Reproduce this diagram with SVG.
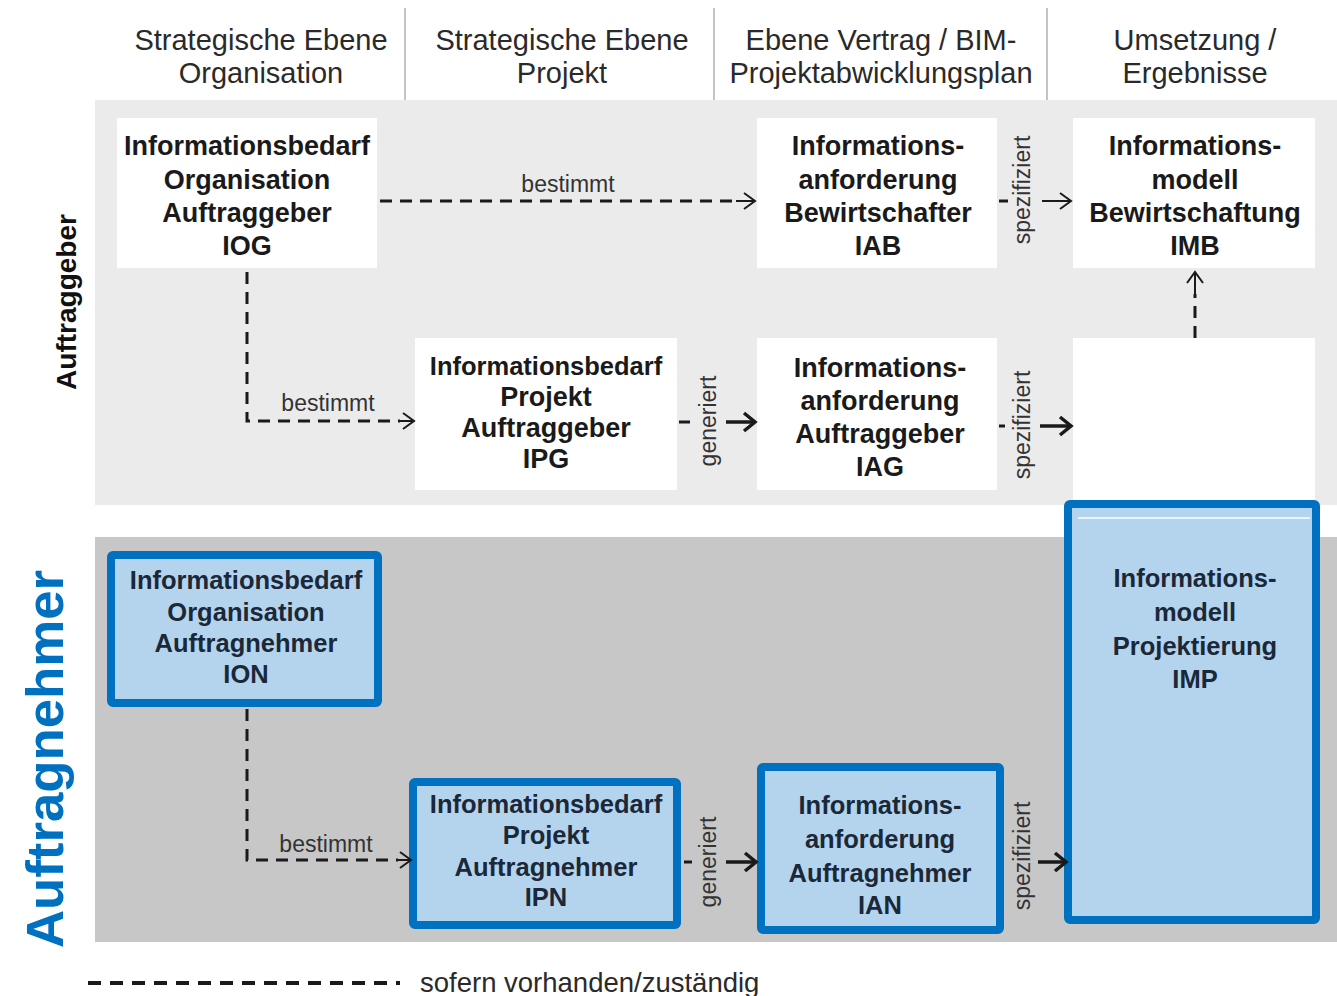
<svg xmlns="http://www.w3.org/2000/svg" width="1337" height="996" viewBox="0 0 1337 996">
<defs>
<style>
.hdr{font-family:"Liberation Sans",Arial,sans-serif;font-size:29px;fill:#2a2a2a;text-anchor:middle}
.nt{font-family:"Liberation Sans",Arial,sans-serif;font-size:27px;font-weight:bold;fill:#1a1a1a;text-anchor:middle}
.bt{font-family:"Liberation Sans",Arial,sans-serif;font-size:25.5px;font-weight:bold;fill:#1b2838;text-anchor:middle}
.lbl{font-family:"Liberation Sans",Arial,sans-serif;font-size:23px;fill:#333;text-anchor:middle}
.wbox{fill:#ffffff}
.bbox{fill:#b4d4ee;stroke:#0070c0;stroke-width:8}
.dash{fill:none;stroke:#1a1a1a;stroke-width:3;stroke-dasharray:12 8}
.arr{fill:none;stroke:#1a1a1a;stroke-width:2;marker-end:url(#ah)}
.arrb{fill:none;stroke:#1a1a1a;stroke-width:3.5;marker-end:url(#ahb)}
.sep{stroke:#c4c4c4;stroke-width:2}
</style>
<marker id="ah" markerUnits="userSpaceOnUse" markerWidth="20" markerHeight="20" refX="14" refY="10" orient="auto">
<path d="M3,2 L14,10 L3,18" fill="none" stroke="#1a1a1a" stroke-width="2"/>
</marker>
<marker id="ahb" markerUnits="userSpaceOnUse" markerWidth="22" markerHeight="22" refX="15" refY="11" orient="auto">
<path d="M4,2 L15,11 L4,20" fill="none" stroke="#1a1a1a" stroke-width="3.5"/>
</marker>
</defs>
<rect x="0" y="0" width="1337" height="996" fill="#ffffff"/>
<g id="bands">
<rect x="95" y="100" width="1242" height="405" fill="#ebebeb"/>
<rect x="95" y="537" width="1242" height="405" fill="#c7c7c7"/>
</g>
<g id="headers">
<line class="sep" x1="405" y1="8" x2="405" y2="100"/>
<line class="sep" x1="714" y1="8" x2="714" y2="100"/>
<line class="sep" x1="1047" y1="8" x2="1047" y2="100"/>
<text class="hdr" x="261" y="50">Strategische Ebene</text>
<text class="hdr" x="261" y="83">Organisation</text>
<text class="hdr" x="562" y="50">Strategische Ebene</text>
<text class="hdr" x="562" y="83">Projekt</text>
<text class="hdr" x="881" y="50">Ebene Vertrag / BIM-</text>
<text class="hdr" x="881" y="83">Projektabwicklungsplan</text>
<text class="hdr" x="1195" y="50">Umsetzung /</text>
<text class="hdr" x="1195" y="83">Ergebnisse</text>
</g>
<g id="side-labels">
<text transform="translate(76,302) rotate(-90)" font-family="Liberation Sans, Arial, sans-serif" font-size="28" font-weight="bold" fill="#111" text-anchor="middle">Auftraggeber</text>
<text transform="translate(63,759) rotate(-90)" font-family="Liberation Sans, Arial, sans-serif" font-size="52" font-weight="bold" fill="#0070c0" text-anchor="middle" textLength="378" lengthAdjust="spacingAndGlyphs">Auftragnehmer</text>
</g>
<g id="node-IOG">
<rect class="wbox" x="117" y="118" width="260" height="150"/>
<text class="nt" x="247" y="155">Informationsbedarf</text>
<text class="nt" x="247" y="189">Organisation</text>
<text class="nt" x="247" y="222">Auftraggeber</text>
<text class="nt" x="247" y="255">IOG</text>
</g>
<g id="node-IAB">
<rect class="wbox" x="757" y="118" width="240" height="150"/>
<text class="nt" x="878" y="155">Informations-</text>
<text class="nt" x="878" y="189">anforderung</text>
<text class="nt" x="878" y="222">Bewirtschafter</text>
<text class="nt" x="878" y="255">IAB</text>
</g>
<g id="node-IMB">
<rect class="wbox" x="1073" y="118" width="242" height="150"/>
<text class="nt" x="1195" y="155">Informations-</text>
<text class="nt" x="1195" y="189">modell</text>
<text class="nt" x="1195" y="222">Bewirtschaftung</text>
<text class="nt" x="1195" y="255">IMB</text>
</g>
<g id="node-IPG">
<rect class="wbox" x="415" y="338" width="262" height="152"/>
<text class="nt" x="546" y="375" style="font-size:25.5px">Informationsbedarf</text>
<text class="nt" x="546" y="406">Projekt</text>
<text class="nt" x="546" y="437">Auftraggeber</text>
<text class="nt" x="546" y="468">IPG</text>
</g>
<g id="node-IAG">
<rect class="wbox" x="757" y="338" width="240" height="152"/>
<text class="nt" x="880" y="377">Informations-</text>
<text class="nt" x="880" y="410">anforderung</text>
<text class="nt" x="880" y="443">Auftraggeber</text>
<text class="nt" x="880" y="476">IAG</text>
</g>
<g id="node-empty">
<rect class="wbox" x="1073" y="338" width="242" height="162"/>
</g>
<g id="node-ION">
<rect class="bbox" x="111" y="555" width="267" height="148" rx="2"/>
<text class="bt" x="246" y="589">Informationsbedarf</text>
<text class="bt" x="246" y="621">Organisation</text>
<text class="bt" x="246" y="652">Auftragnehmer</text>
<text class="bt" x="246" y="683">ION</text>
</g>
<g id="node-IPN">
<rect class="bbox" x="413" y="782" width="264" height="143" rx="2"/>
<text class="bt" x="546" y="813">Informationsbedarf</text>
<text class="bt" x="546" y="844">Projekt</text>
<text class="bt" x="546" y="876">Auftragnehmer</text>
<text class="bt" x="546" y="906">IPN</text>
</g>
<g id="node-IAN">
<rect class="bbox" x="761" y="767" width="239" height="163" rx="2"/>
<text class="bt" x="880" y="814">Informations-</text>
<text class="bt" x="880" y="848">anforderung</text>
<text class="bt" x="880" y="882">Auftragnehmer</text>
<text class="bt" x="880" y="914">IAN</text>
</g>
<g id="node-IMP">
<rect class="bbox" x="1068" y="504" width="248" height="416" rx="2"/>
<line x1="1078" y1="518" x2="1310" y2="518" stroke="#ffffff" stroke-width="1.5"/>
<text class="bt" x="1195" y="587">Informations-</text>
<text class="bt" x="1195" y="621">modell</text>
<text class="bt" x="1195" y="655">Projektierung</text>
<text class="bt" x="1195" y="688">IMP</text>
</g>
<g id="connectors">
<path class="dash" d="M380,201 H735"/>
<path class="arr" d="M736,201 H755"/>
<text class="lbl" x="568" y="192">bestimmt</text>
<path class="dash" d="M999,201 H1008"/>
<text class="lbl" transform="translate(1030,190) rotate(-90)">spezifiziert</text>
<path class="arr" d="M1042,201 H1071"/>
<path class="dash" d="M247,272 V421 H400"/>
<path class="arr" d="M400,421 H414"/>
<text class="lbl" x="328" y="411">bestimmt</text>
<path class="dash" d="M679,422 H690"/>
<text class="lbl" transform="translate(716,421) rotate(-90)">generiert</text>
<path class="arrb" d="M726,422 H755"/>
<path class="dash" d="M999,426 H1005"/>
<text class="lbl" transform="translate(1030,425) rotate(-90)">spezifiziert</text>
<path class="arrb" d="M1040,426 H1071"/>
<path class="dash" d="M1195,338 V294"/>
<path class="arr" d="M1195,294 V272"/>
<path class="dash" d="M247,709 V860 H398"/>
<path class="arr" d="M398,860 H411"/>
<text class="lbl" x="326" y="852">bestimmt</text>
<path class="dash" d="M684,862 H692"/>
<text class="lbl" transform="translate(716,862) rotate(-90)">generiert</text>
<path class="arrb" d="M726,862 H756"/>
<text class="lbl" transform="translate(1030,856) rotate(-90)">spezifiziert</text>
<path class="arrb" d="M1038,862 H1066"/>
</g>
<g id="legend">
<path d="M88,983 H400" fill="none" stroke="#1a1a1a" stroke-width="4" stroke-dasharray="13 9"/>
<text x="420" y="992" font-family="Liberation Sans, Arial, sans-serif" font-size="27.5" fill="#2a2a2a">sofern vorhanden/zuständig</text>
</g>
</svg>
